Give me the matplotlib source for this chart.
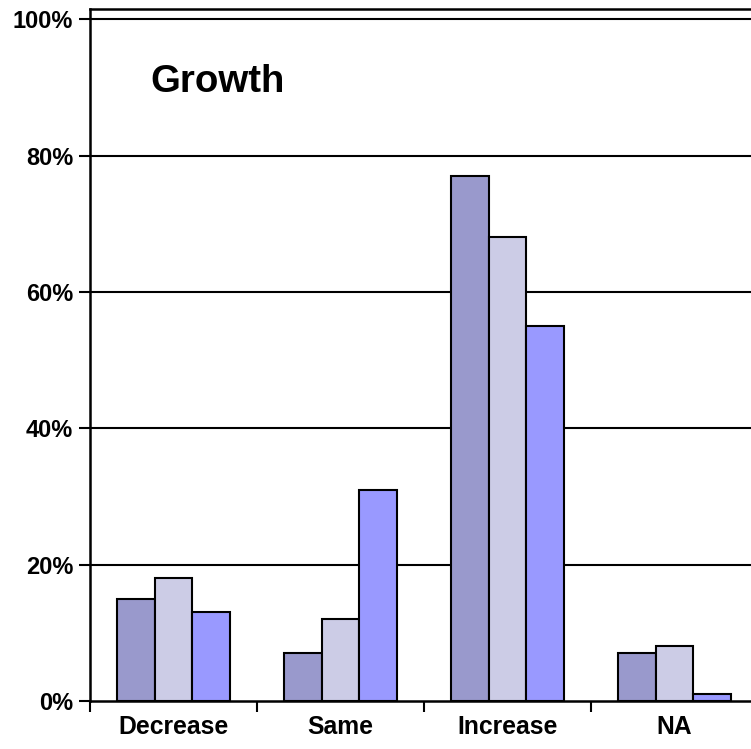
import numpy as np
import matplotlib.pyplot as plt

plt.rcParams['font.family'] = ['Liberation Sans', 'DejaVu Sans']

categories = ['Decrease', 'Same', 'Increase', 'NA']
series_a = [15, 7, 77, 7]
series_b = [18, 12, 68, 8]
series_c = [13, 31, 55, 1]
colors = ['#9999CC', '#CCCCE6', '#9999FF']
yticks = [0, 20, 40, 60, 80, 100]

fig = plt.figure(figsize=(7.51, 7.49), dpi=100)
ax = fig.add_axes([0.1198, 0.0641, 0.8895, 0.9239])

x = np.arange(len(categories))
w = 0.226
for i, (vals, c) in enumerate(zip([series_a, series_b, series_c], colors)):
    ax.bar(x + (i - 1) * w, vals, width=w, color=c, edgecolor='black',
           linewidth=1.5, zorder=3)

ax.set_xlim(-0.5, len(categories) - 0.5)
ax.set_ylim(0, 101.5)

# gridlines
for t in yticks[1:]:
    ax.axhline(t, color='black', linewidth=1.5, zorder=1)

ax.set_yticks(yticks)
ax.set_yticklabels([f'{t}%' for t in yticks], fontsize=17, fontweight='bold')
ax.tick_params(axis='y', length=8, width=1.5, pad=4)

ax.set_xticks(x - 0.5)
ax.set_xticklabels([])
ax.set_xticks(x, minor=True)
ax.set_xticklabels(categories, minor=True, fontsize=17.8, fontweight='bold')
ax.tick_params(axis='x', which='major', length=8, width=1.5)
ax.tick_params(axis='x', which='minor', length=0, pad=10)

for s in ['left', 'top', 'bottom']:
    ax.spines[s].set_linewidth(1.8)
ax.spines['right'].set_visible(False)

ax.text(0.0898, 0.8945, 'Growth', transform=ax.transAxes, fontsize=27.6,
        fontweight='bold', va='center', ha='left')

fig.savefig('out.png', dpi=100)
